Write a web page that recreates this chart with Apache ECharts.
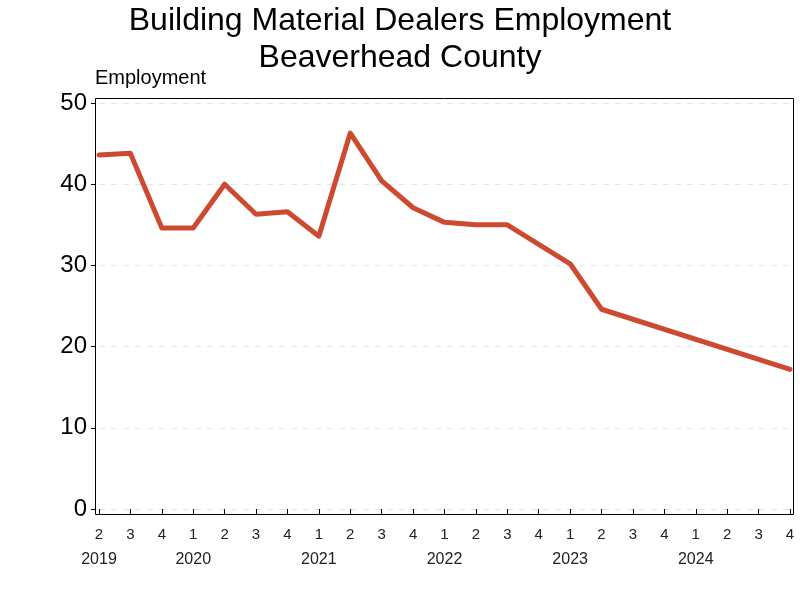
<!DOCTYPE html>
<html><head><meta charset="utf-8">
<script src="https://cdn.jsdelivr.net/npm/echarts@6/dist/echarts.min.js"></script>
<style>html,body{margin:0;padding:0;background:#fff}#c{width:800px;height:600px}</style>
</head><body><div id="c"></div>
<script>
const quarters = ['2','3','4','1','2','3','4','1','2','3','4','1','2','3','4','1','2','3','4','1','2','3','4'];
const years = ['2019','','','2020','','','','2021','','','','2022','','','','2023','','','','2024','','',''];
const employment = [43.6,43.8,34.6,34.6,40.0,36.3,36.6,33.6,46.3,40.4,37.1,35.3,35.0,35.0,null,30.2,24.6,null,null,null,null,null,17.2];
const yTicks = [0,10,20,30,40,50];

const chart = echarts.init(document.getElementById('c'));
const font = 'Liberation Sans, Arial, sans-serif';
chart.setOption({
  animation:false,
  title:{text:'Building Material Dealers Employment\nBeaverhead County',left:'center',top:-2,
    textStyle:{fontFamily:font,fontSize:32,fontWeight:'normal',color:'#000',lineHeight:37}},
  graphic:[
    {type:'rect',shape:{x:95.5,y:98.5,width:698,height:416},style:{fill:'none',stroke:'#000',lineWidth:1},z:10},
    {type:'text',left:95,top:68,style:{text:'Employment',fontFamily:font,fontSize:20,fill:'#000'}}
  ],
  grid:{left:99,right:10,top:103,bottom:91,containLabel:false},
  xAxis:{type:'category',data:quarters,boundaryGap:false,offset:5,
    axisLine:{show:false},
    axisTick:{show:true,length:6,lineStyle:{color:'#000'},interval:0},
    axisLabel:{interval:0,margin:8,fontFamily:font,fontSize:15,lineHeight:25,color:'#222',
      formatter:(v,i)=> years[i] ? v+'\n{y|'+years[i]+'}' : v,
      rich:{y:{fontFamily:font,fontSize:16,lineHeight:25,color:'#222'}}},
    splitLine:{show:false}},
  yAxis:{type:'value',min:yTicks[0],max:yTicks[yTicks.length-1],interval:10,offset:4,
    axisLine:{show:false},
    axisTick:{show:true,length:4,lineStyle:{color:'#000'}},
    axisLabel:{fontFamily:font,fontSize:24,color:'#000',margin:8,padding:[3,0,0,0]},
    splitLine:{show:true,lineStyle:{color:'#e6e6e6',type:[6,6],width:1}}},
  series:[{type:'line',data:employment,connectNulls:true,showSymbol:false,symbol:'none',
    lineStyle:{color:'#CD4A31',width:5,cap:'round',join:'round'},z:5}]
});
</script></body></html>
